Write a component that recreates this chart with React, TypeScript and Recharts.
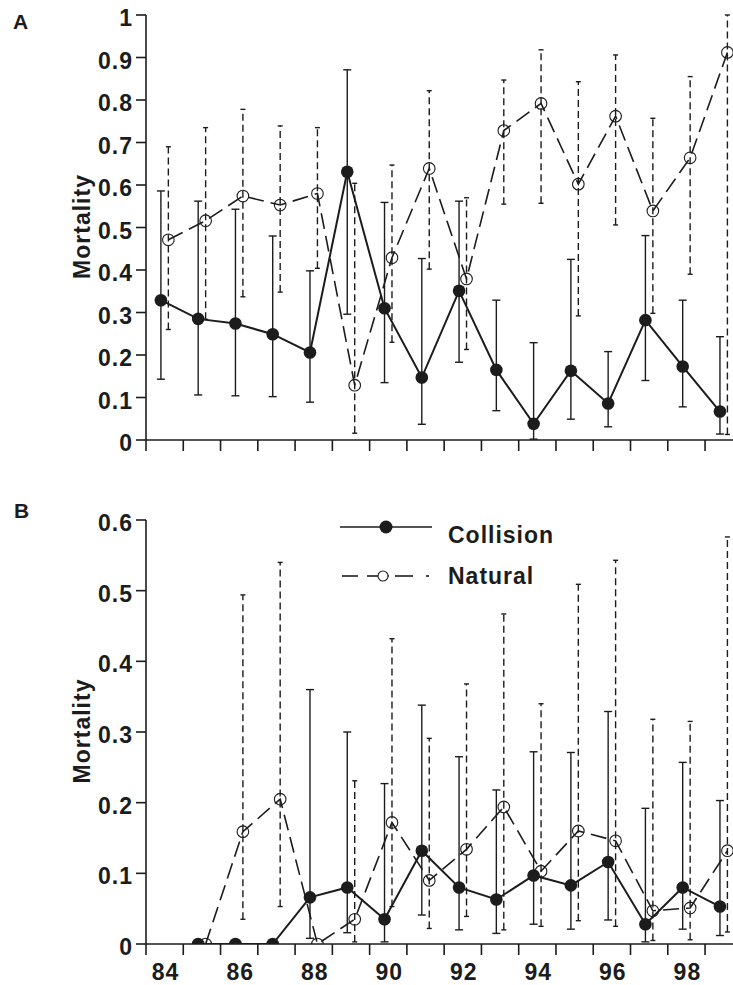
import React from 'react';
import { ComposedChart, Line, ErrorBar, XAxis, YAxis, Legend } from 'recharts';

// years (panel A starts in 84, panel B in 85)
const yearsA = [84, 85, 86, 87, 88, 89, 90, 91, 92, 93, 94, 95, 96, 97, 98, 99];
const yearsB = [85, 86, 87, 88, 89, 90, 91, 92, 93, 94, 95, 96, 97, 98, 99];

// Panel A
const collisionA = [0.329, 0.285, 0.274, 0.249, 0.206, 0.631, 0.31, 0.147, 0.351, 0.165, 0.038, 0.163, 0.086, 0.282, 0.173, 0.067];
const collisionALow = [0.143, 0.106, 0.104, 0.102, 0.089, 0.296, 0.135, 0.037, 0.183, 0.069, 0.002, 0.049, 0.031, 0.14, 0.078, 0.014];
const collisionAHigh = [0.586, 0.562, 0.543, 0.48, 0.398, 0.871, 0.559, 0.427, 0.562, 0.329, 0.229, 0.425, 0.208, 0.481, 0.329, 0.243];
const naturalA = [0.471, 0.516, 0.574, 0.553, 0.58, 0.129, 0.429, 0.639, 0.379, 0.728, 0.792, 0.602, 0.762, 0.539, 0.664, 0.912];
const naturalALow = [0.26, 0.284, 0.337, 0.348, 0.404, 0.016, 0.23, 0.402, 0.213, 0.555, 0.557, 0.292, 0.506, 0.298, 0.39, 0.013];
const naturalAHigh = [0.69, 0.735, 0.778, 0.739, 0.735, 0.604, 0.647, 0.822, 0.57, 0.847, 0.918, 0.843, 0.906, 0.757, 0.855, 1.0];

// Panel B
const collisionB = [0, 0, 0, 0.066, 0.08, 0.035, 0.132, 0.08, 0.063, 0.097, 0.083, 0.116, 0.028, 0.08, 0.053];
const collisionBLow = [null, null, null, 0.008, 0.016, 0.003, 0.041, 0.02, 0.015, 0.028, 0.021, 0.034, 0.003, 0.021, 0.012];
const collisionBHigh = [null, null, null, 0.36, 0.3, 0.227, 0.338, 0.265, 0.218, 0.272, 0.271, 0.329, 0.192, 0.257, 0.203];
const naturalB = [0, 0.159, 0.205, 0, 0.035, 0.172, 0.09, 0.134, 0.194, 0.103, 0.16, 0.146, 0.047, 0.051, 0.132];
const naturalBLow = [null, 0.035, 0.053, null, 0.003, 0.053, 0.022, 0.039, 0.02, 0.025, 0.033, 0.025, 0.005, 0.006, 0.017];
const naturalBHigh = [null, 0.494, 0.54, null, 0.231, 0.432, 0.291, 0.368, 0.467, 0.34, 0.509, 0.543, 0.318, 0.315, 0.576];

// ticks
const xTicks = [83.5, 84.5, 85.5, 86.5, 87.5, 88.5, 89.5, 90.5, 91.5, 92.5, 93.5, 94.5, 95.5, 96.5, 97.5, 98.5];
const xLabelYears = [84, 86, 88, 90, 92, 94, 96, 98];
const yTicksA = [0, 0.1, 0.2, 0.3, 0.4, 0.5, 0.6, 0.7, 0.8, 0.9, 1];
const yTicksB = [0, 0.1, 0.2, 0.3, 0.4, 0.5, 0.6];

const FONT = '"Liberation Sans", Arial, Helvetica, sans-serif';
const INK = '#1c1c1c';
const W = 733;
const Y_AXIS_W = 146;
const X_MIN = 83.5;
const X_MAX = 99.25;
const HALF_UNIT = (W - Y_AXIS_W) / (X_MAX - X_MIN) / 2;
const COLL_SHIFT = -0.1;
const NAT_SHIFT = 0.1;
const FS = 23;

type Num = number | null;

const buildRows = (years: number[], vals: number[], lo: Num[], hi: Num[], shift: number) =>
  years.map((yr, i) => ({
    x: yr + shift,
    v: vals[i],
    err: lo[i] == null || hi[i] == null ? null : [vals[i] - (lo[i] as number), (hi[i] as number) - vals[i]],
  }));

const rowsCollA = buildRows(yearsA, collisionA, collisionALow, collisionAHigh, COLL_SHIFT);
const rowsNatA = buildRows(yearsA, naturalA, naturalALow, naturalAHigh, NAT_SHIFT);
const rowsCollB = buildRows(yearsB, collisionB, collisionBLow, collisionBHigh, COLL_SHIFT);
const rowsNatB = buildRows(yearsB, naturalB, naturalBLow, naturalBHigh, NAT_SHIFT);

const textStyle = { fontFamily: FONT, fontWeight: 700, fill: INK, letterSpacing: 1 };

const XTick = (props: any) => {
  const { x, y, payload, showLabels } = props;
  const yr = payload.value + 0.5;
  if (!showLabels || !xLabelYears.includes(yr)) return <g />;
  return (
    <text x={x + HALF_UNIT + 1} y={y + 25} textAnchor="middle" fontSize={FS} style={textStyle}>
      {yr}
    </text>
  );
};

const MortalityLabel = (props: any) => {
  const vb = props.viewBox || { x: 0, y: 0, width: 0, height: 0 };
  const cx = vb.x + 82;
  const cy = vb.y + vb.height / 2 - 1;
  return (
    <text
      x={cx}
      y={cy}
      transform={`rotate(-90 ${cx} ${cy})`}
      textAnchor="middle"
      dominantBaseline="central"
      fontSize={FS}
      style={textStyle}
    >
      Mortality
    </text>
  );
};

const LegendBox = (props: any) => {
  const payload = props.payload || [];
  return (
    <svg width={240} height={85} style={{ display: 'block' }}>
      {payload.map((entry: any, i: number) => {
        const cy = i === 0 ? 17 : 66;
        const isColl = entry.value === 'Collision';
        return (
          <g key={entry.value}>
            {isColl ? (
              <g>
                <line x1={2} y1={cy} x2={94} y2={cy} stroke={INK} strokeWidth={1.6} />
                <circle cx={48} cy={cy} r={6.5} fill={INK} />
              </g>
            ) : (
              <g stroke={INK} strokeWidth={1.6}>
                <line x1={4} y1={cy} x2={20} y2={cy} />
                <line x1={29} y1={cy} x2={40} y2={cy} />
                <circle cx={45} cy={cy} r={5} fill="none" strokeWidth={1.1} />
                <line x1={50} y1={cy} x2={51} y2={cy} />
                <line x1={57} y1={cy} x2={75} y2={cy} />
                <line x1={88} y1={cy} x2={91} y2={cy} />
              </g>
            )}
            <text x={110} y={cy + (isColl ? 16 : 8)} fontSize={FS} style={textStyle}>
              {entry.value}
            </text>
          </g>
        );
      })}
    </svg>
  );
};

const collDot = { r: 6.3, fill: INK, stroke: INK, strokeWidth: 0, strokeDasharray: 'none' };
const natDot = { r: 5.8, fill: 'none', stroke: INK, strokeWidth: 1.1, strokeDasharray: 'none' };

const Panel = (p: {
  height: number;
  top: number;
  xHeight: number;
  yMax: number;
  yTicks: number[];
  coll: any[];
  nat: any[];
  showXLabels: boolean;
  legend: boolean;
}) => (
  <ComposedChart width={W} height={p.height} margin={{ top: p.top, right: 0, bottom: 0, left: 0 }}>
    <XAxis
      type="number"
      dataKey="x"
      domain={[X_MIN, X_MAX]}
      ticks={xTicks}
      interval={0}
      height={p.xHeight}
      tickSize={11}
      tickMargin={0}
      axisLine={{ stroke: INK, strokeWidth: 1.6 }}
      tickLine={{ stroke: INK, strokeWidth: 1.6 }}
      tick={(tp: any) => <XTick {...tp} showLabels={p.showXLabels} />}
      allowDataOverflow
    />
    <YAxis
      type="number"
      domain={[0, p.yMax]}
      ticks={p.yTicks}
      interval={0}
      width={Y_AXIS_W}
      tickSize={10}
      tickMargin={3}
      axisLine={{ stroke: INK, strokeWidth: 1.6 }}
      tickLine={{ stroke: INK, strokeWidth: 1.6 }}
      tick={{ fontSize: FS, fontFamily: FONT, fontWeight: 700, fill: INK, letterSpacing: 1, dy: 3 }}
      label={<MortalityLabel />}
      allowDataOverflow
    />
    {p.legend && (
      <Legend
        layout="vertical"
        verticalAlign="middle"
        align="center"
        content={<LegendBox />}
        wrapperStyle={{ position: 'absolute', left: 338, top: 30, width: 240, height: 85 }}
      />
    )}
    <Line
      data={p.coll}
      dataKey="v"
      name="Collision"
      type="linear"
      stroke={INK}
      strokeWidth={2}
      dot={collDot}
      activeDot={false}
      isAnimationActive={false}
    >
      <ErrorBar dataKey="err" direction="y" width={4} stroke={INK} strokeWidth={1.4} />
    </Line>
    <Line
      data={p.nat}
      dataKey="v"
      name="Natural"
      type="linear"
      stroke={INK}
      strokeWidth={1.6}
      strokeDasharray="16 7"
      dot={natDot}
      activeDot={false}
      isAnimationActive={false}
    >
      <ErrorBar dataKey="err" direction="y" width={2.5} stroke={INK} strokeWidth={1.4} strokeDasharray="7 4" />
    </Line>
  </ComposedChart>
);

export default function App() {
  return (
    <div style={{ position: 'absolute', left: 0, top: 0, width: W, height: 985, background: '#fff', fontFamily: FONT }}>
      <Panel height={480} top={15} xHeight={40} yMax={1} yTicks={yTicksA} coll={rowsCollA} nat={rowsNatA} showXLabels={false} legend={false} />
      <Panel height={505} top={40} xHeight={41} yMax={0.6} yTicks={yTicksB} coll={rowsCollB} nat={rowsNatB} showXLabels legend />
      <svg width={W} height={985} style={{ position: 'absolute', left: 0, top: 0, pointerEvents: 'none' }}>
        <text x={13} y={29} fontSize={21} style={textStyle}>A</text>
        <text x={14} y={518} fontSize={21} style={textStyle}>B</text>
      </svg>
    </div>
  );
}
